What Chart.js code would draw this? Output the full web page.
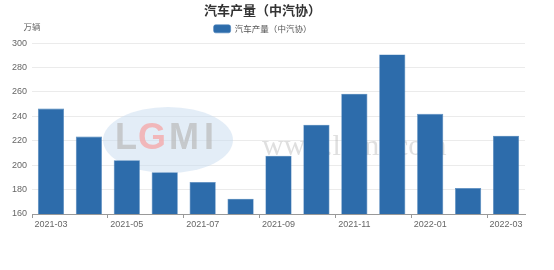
<!DOCTYPE html>
<html>
<head>
<meta charset="utf-8">
<script src="https://cdn.jsdelivr.net/npm/chart.js@4"></script>
<style>
  html, body { margin: 0; padding: 0; background: #fff; }
  #wrap { width: 554px; height: 270px; }
</style>
</head>
<body>
<div id="wrap"><canvas id="autoChart"></canvas></div>
<script>
const months = ['2021-03', '2021-04', '2021-05', '2021-06', '2021-07', '2021-08', '2021-09',
                '2021-10', '2021-11', '2021-12', '2022-01', '2022-02', '2022-03'];
const output = [246.4, 223.4, 204.1, 194.3, 186.3, 172.5, 207.7, 233.1, 258.5, 290.7, 242.1, 181.4, 224.1];
const yTicks = [160, 180, 200, 220, 240, 260, 280, 300];
const seriesName = '汽车产量（中汽协）';
const unitLabel = '万辆';

const cjk = "'Noto Sans CJK SC', 'Noto Sans', sans-serif";
const num = "'Liberation Sans', Arial, sans-serif";

// faint LGMI watermark behind the bars
const watermark = {
    id: 'watermark',
    beforeDatasetsDraw(chart) {
        const { ctx, chartArea: a } = chart;
        ctx.save();
        ctx.fillStyle = 'rgba(200, 220, 240, 0.5)';
        ctx.beginPath();
        ctx.ellipse(a.left + 136, a.top + 97, 65, 33, 0, 0, Math.PI * 2);
        ctx.fill();
        ctx.font = 'bold 36px ' + num;
        ctx.textBaseline = 'middle';
        ctx.fillStyle = 'rgba(185, 185, 185, 0.7)';
        ctx.fillText('L', a.left + 83, a.top + 96);
        ctx.fillStyle = 'rgba(245, 165, 165, 0.75)';
        ctx.fillText('G', a.left + 106, a.top + 96);
        ctx.fillStyle = 'rgba(185, 185, 185, 0.7)';
        ctx.fillText('M', a.left + 137, a.top + 96);
        ctx.fillText('I', a.left + 172, a.top + 96);
        ctx.font = '30px "Liberation Serif", serif';
        ctx.fillStyle = 'rgba(175, 175, 175, 0.4)';
        ctx.fillText('www.lgmi.com', a.left + 230, a.top + 104);
        ctx.restore();
    }
};

// unit label above the y axis
const unitText = {
    id: 'unitText',
    afterDraw(chart) {
        const { ctx, chartArea: a } = chart;
        ctx.save();
        ctx.font = '8.5px ' + cjk;
        ctx.fillStyle = '#666';
        ctx.textAlign = 'center';
        ctx.textBaseline = 'middle';
        ctx.fillText(unitLabel, a.left, a.top - 16);
        ctx.restore();
    }
};

new Chart(document.getElementById('autoChart'), {
    type: 'bar',
    data: {
        labels: months,
        datasets: [{
            label: seriesName,
            data: output,
            backgroundColor: '#2d6cab',
            borderColor: '#4a82bb',
            borderWidth: 0.6,
            categoryPercentage: 0.69,
            barPercentage: 1
        }]
    },
    options: {
        responsive: true,
        maintainAspectRatio: false,
        animation: false,
        layout: { padding: { left: 0, right: 29, top: 0, bottom: 0 } },
        plugins: {
            title: {
                display: true,
                text: seriesName,
                color: '#333',
                font: { family: cjk, size: 13, weight: 'bold' },
                padding: { top: 2, bottom: 3 }
            },
            legend: {
                display: true,
                labels: {
                    color: '#555',
                    font: { family: cjk, size: 8.5 },
                    boxWidth: 17,
                    boxHeight: 8,
                    useBorderRadius: true,
                    borderRadius: 2,
                    padding: 4
                }
            },
            tooltip: { enabled: false }
        },
        scales: {
            x: {
                afterFit(scale) { scale.height = 56; },
                grid: {
                    offset: true,
                    drawOnChartArea: false,
                    tickLength: 4,
                    color: c => (c.index % 2 === 0 || c.index === months.length) ? '#999' : 'rgba(0,0,0,0)'
                },
                border: { color: '#999' },
                ticks: {
                    autoSkip: false,
                    maxRotation: 0,
                    color: '#666',
                    font: { family: num, size: 9 },
                    padding: 1,
                    callback: (v, i) => i % 2 === 0 ? months[i] : ''
                }
            },
            y: {
                min: yTicks[0],
                max: yTicks[yTicks.length - 1],
                afterFit(scale) { scale.width = 32; },
                afterBuildTicks(scale) { scale.ticks = yTicks.map(v => ({ value: v })); },
                grid: { color: '#ebebeb', drawTicks: false },
                border: { display: false },
                ticks: {
                    color: '#666',
                    font: { family: num, size: 9 },
                    padding: 5
                }
            }
        }
    },
    plugins: [watermark, unitText]
});
</script>
</body>
</html>
